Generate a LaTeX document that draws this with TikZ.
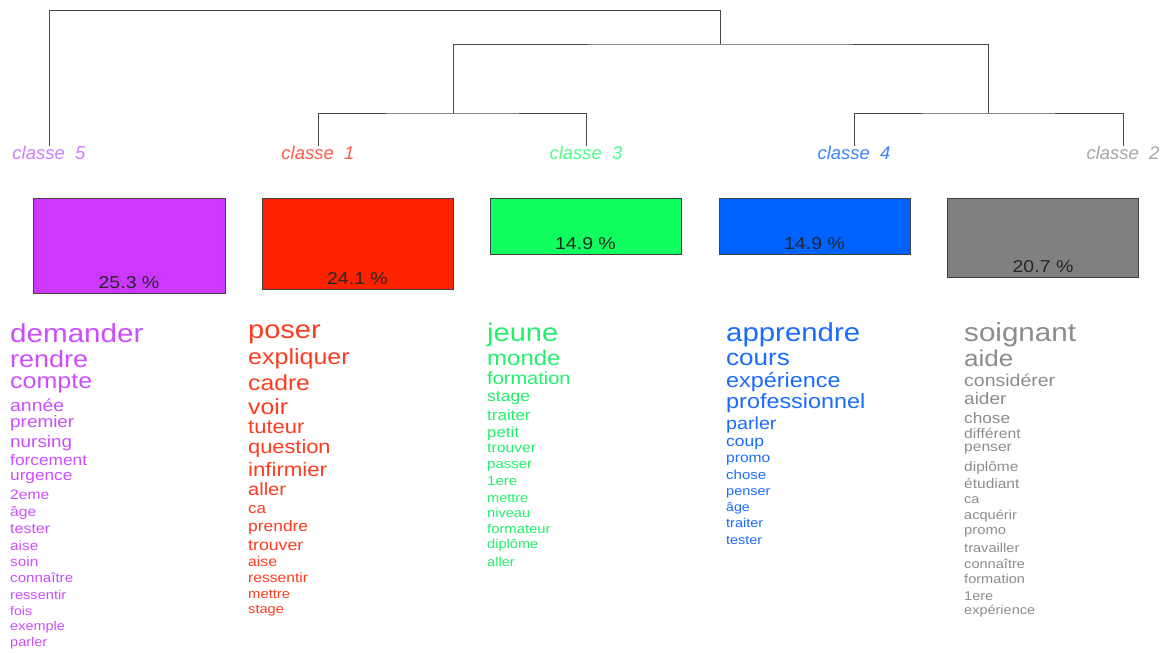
\documentclass[tikz,border=0pt]{standalone}
\usepackage{fontspec}
\usepackage{graphicx}
\setmainfont{Liberation Sans}
\definecolor{bfive}{HTML}{CC38FF}
\definecolor{bone}{HTML}{FF2200}
\definecolor{bthree}{HTML}{11FF5E}
\definecolor{bfour}{HTML}{0062FF}
\definecolor{btwo}{HTML}{808080}
\definecolor{wfive}{HTML}{CC4DFF}
\definecolor{wone}{HTML}{FF3B1F}
\definecolor{wthree}{HTML}{22F06A}
\definecolor{wfour}{HTML}{1A6BFF}
\definecolor{wtwo}{HTML}{8C8C8C}
\definecolor{lfive}{HTML}{D37BFF}
\definecolor{lone}{HTML}{FF5A4A}
\definecolor{lthree}{HTML}{4DFF85}
\definecolor{lfour}{HTML}{3D82FF}
\definecolor{ltwo}{HTML}{A6A6A6}
\newcommand{\sqz}[1]{\scalebox{1}[0.88]{#1}}
\begin{document}
\begin{tikzpicture}[x=1pt,y=-1pt,
  dend/.style={draw=black!72, line width=1pt},
  clabel/.style={inner sep=0pt, font=\fontsize{18.5}{18.5}\selectfont\itshape},
  cbox/.style={draw=black!75, line width=0.9pt, minimum width=191pt, inner sep=0pt},
  pct/.style={inner sep=0pt, anchor=base, font=\fontsize{19.5}{19.5}\selectfont, text=black!85},
  word/.style={inner sep=0pt, anchor=mid west}]
\useasboundingbox (0,0) rectangle (1171,653);
% class labels
\node[clabel, text=lfive]  (l5) at (49,153)  {classe\ \ 5};
\node[clabel, text=lone]   (l1) at (318,153) {classe\ \ 1};
\node[clabel, text=lthree] (l3) at (586,153) {classe\ \ 3};
\node[clabel, text=lfour]  (l4) at (854,153) {classe\ \ 4};
\node[clabel, text=ltwo]   (l2) at (1123,153) {classe\ \ 2};
% dendrogram
\coordinate (root) at (720,10);
\coordinate (n2) at (720,44);
\coordinate (n13) at (453,113);
\coordinate (n42) at (988,113);
\draw[dend] (l5.north) |- (root) -- (n2);
\draw[dend] (n13) |- (n2) -| (n42);
\draw[dend] (l1.north) |- (n13) -| (l3.north);
\draw[dend] (l4.north) |- (n42) -| (l2.north);
% boxes
\node[cbox, fill=bfive, minimum width=192pt, minimum height=95pt] (b5) at (129,245.5) {};
\node[cbox, fill=bone, minimum height=91pt] (b1) at (357.5,243.5) {};
\node[cbox, fill=bthree, minimum height=56pt] (b3) at (585.5,226) {};
\node[cbox, fill=bfour, minimum height=56pt] (b4) at (814.5,226) {};
\node[cbox, fill=btwo, minimum height=79pt] (b2) at (1043,237.5) {};
\node[pct] (p5) at ([yshift=5pt]b5.south) {\sqz{25.3 \%}};
\node[pct] (p1) at ([yshift=5pt]b1.south) {\sqz{24.1 \%}};
\node[pct] (p3) at ([yshift=5pt]b3.south) {\sqz{14.9 \%}};
\node[pct] (p4) at ([yshift=5pt]b4.south) {\sqz{14.9 \%}};
\node[pct] (p2) at ([yshift=5pt]b2.south) {\sqz{20.7 \%}};
% word lists
\foreach \w/\s/\y [count=\i] in {demander/29.6/335, rendre/27/360, compte/25/381, année/19.4/405, premier/18.9/421, nursing/18.9/441, forcement/17.3/459, urgence/17.2/474, 2eme/15.6/494, âge/15.6/511, tester/16/528, aise/15.3/545, soin/15.3/561, connaître/15.1/577, ressentir/14.6/594, fois/14.1/610, exemple/14.5/625, parler/14.5/641}
  \node[word, text=wfive, font=\fontsize{\s}{\s}\selectfont] (wa\i) at ({10},{\y+3+0.15*(\s-14)}) {\sqz{\w}};
\foreach \w/\s/\y [count=\i] in {poser/29/331, expliquer/25/357, cadre/24.7/383, voir/24.8/407, tuteur/22/427, question/21.8/447, infirmier/22.2/470, aller/20/489, ca/17/507, prendre/17.4/525, trouver/17.7/544, aise/15.8/561, ressentir/15.6/577, mettre/14.8/593, stage/14.6/608}
  \node[word, text=wone, font=\fontsize{\s}{\s}\selectfont] (wb\i) at ({248},{\y+3+0.15*(\s-14)}) {\sqz{\w}};
\foreach \w/\s/\y [count=\i] in {jeune/29/334, monde/24/358, formation/20/378, stage/17.5/395, traiter/17/414, petit/16.8/431, trouver/15.7/447, passer/15/463, 1ere/15/480, mettre/14.5/497, niveau/14.6/512, formateur/14.8/528, diplôme/14.6/543, aller/14.6/561}
  \node[word, text=wthree, font=\fontsize{\s}{\s}\selectfont] (wc\i) at ({487},{\y+3+0.15*(\s-14)}) {\sqz{\w}};
\foreach \w/\s/\y [count=\i] in {apprendre/29.4/334, cours/26/358, expérience/23.4/380, professionnel/23.4/401, parler/19.7/423, coup/17.4/440, promo/15.6/457, chose/15/474, penser/14.5/490, âge/14.2/506, traiter/14.5/522, tester/14.4/539}
  \node[word, text=wfour, font=\fontsize{\s}{\s}\selectfont] (wd\i) at ({726},{\y+3+0.15*(\s-14)}) {\sqz{\w}};
\foreach \w/\s/\y [count=\i] in {soignant/29.6/334, aide/26/359, considérer/19.5/380, aider/19/398, chose/17.2/417, différent/15.7/433, penser/15.6/446, diplôme/15.5/466, étudiant/15.5/483, ca/14.5/498, acquérir/14.6/514, promo/14.8/529, travailler/14.6/547, connaître/14.6/563, formation/14.6/578, 1ere/14.5/595, expérience/14.5/609}
  \node[word, text=wtwo, font=\fontsize{\s}{\s}\selectfont] (we\i) at ({964},{\y+3+0.15*(\s-14)}) {\sqz{\w}};
\end{tikzpicture}
\end{document}
